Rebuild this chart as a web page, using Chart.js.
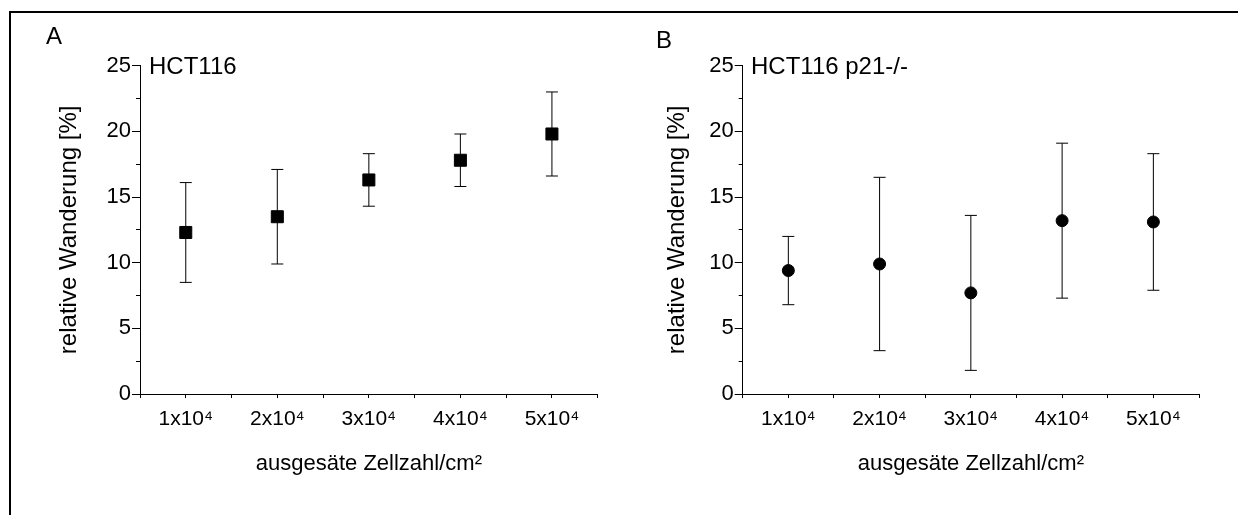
<!DOCTYPE html>
<html>
<head>
<meta charset="utf-8">
<script src="https://cdn.jsdelivr.net/npm/chart.js@4"></script>
<style>
  body { margin: 0; background: #fff; }
  #frame { position: absolute; left: 9px; top: 11px; right: 0; bottom: 0; border-top: 2px solid #000; border-left: 2px solid #000; }
  canvas { position: absolute; top: 0; }
  .lbl { position: absolute; font-family: "Liberation Sans", Arial, sans-serif; font-size: 24px; line-height: 24px; color: #000; white-space: nowrap; }
</style>
</head>
<body>
<div id="frame"></div>
<canvas id="chartA" width="619" height="515" style="left:0"></canvas>
<canvas id="chartB" width="619" height="515" style="left:619px"></canvas>
<div class="lbl" style="left:46px; top:24px">A</div>
<div class="lbl" style="left:656px; top:28px">B</div>
<div class="lbl" style="left:149px; top:54px">HCT116</div>
<div class="lbl" style="left:751px; top:54px">HCT116 p21-/-</div>
<script>
'use strict';

const cellCounts = [1, 2, 3, 4, 5];
const xTickLabels = ['1x10⁴', '2x10⁴', '3x10⁴', '4x10⁴', '5x10⁴'];

const hctMean = [12.3, 13.5, 16.3, 17.8, 19.8];
const hctErr = [3.8, 3.6, 2.0, 2.0, 3.2];

const p21Mean = [9.4, 9.9, 7.7, 13.2, 13.1];
const p21Err = [2.6, 6.6, 5.9, 5.9, 5.2];

const FONT = '"Liberation Sans", Arial, sans-serif';

function buildChart(canvasId, mean, err, pointStyle, radius, yAxisWidth, padRight, yTitlePad) {
    const points = cellCounts.map((x, i) => ({ x: x, y: mean[i] }));
    const caps = [];
    const stems = [];
    cellCounts.forEach((x, i) => {
        caps.push({ x: x, y: mean[i] + err[i] }, { x: x, y: mean[i] - err[i] });
        stems.push({ x: x, y: mean[i] - err[i] }, { x: x, y: mean[i] + err[i] }, { x: x + 0.5, y: null });
    });

    return new Chart(document.getElementById(canvasId), {
        type: 'scatter',
        data: {
            datasets: [
                {
                    data: points,
                    pointStyle: pointStyle,
                    pointRadius: radius,
                    backgroundColor: '#000',
                    borderColor: '#000',
                    borderWidth: 1
                },
                {
                    data: caps,
                    pointStyle: 'line',
                    pointRadius: 6,
                    borderColor: '#000',
                    borderWidth: 1
                },
                {
                    type: 'line',
                    data: stems,
                    showLine: true,
                    spanGaps: false,
                    pointRadius: 0,
                    borderColor: '#000',
                    borderWidth: 1
                }
            ]
        },
        options: {
            responsive: false,
            animation: false,
            layout: { padding: { left: 0, right: padRight, top: 65.7, bottom: 0 } },
            plugins: { legend: { display: false }, tooltip: { enabled: false } },
            scales: {
                x: {
                    type: 'linear',
                    min: 0.5,
                    max: 5.5,
                    ticks: {
                        stepSize: 0.5,
                        autoSkip: false,
                        color: '#000',
                        font: { family: FONT, size: 21 },
                        padding: 9,
                        maxRotation: 0,
                        callback: (v) => Number.isInteger(v) ? xTickLabels[v - 1] : ''
                    },
                    grid: { drawOnChartArea: false, tickLength: 4, tickColor: '#000' },
                    border: { color: '#000', width: 1 },
                    title: {
                        display: true,
                        text: 'ausgesäte Zellzahl/cm²',
                        color: '#000',
                        font: { family: FONT, size: 22 },
                        padding: { top: 0, bottom: 38 }
                    },
                    afterFit: (s) => { s.height = 121; }
                },
                y: {
                    type: 'linear',
                    position: 'left',
                    weight: 1,
                    min: 0,
                    max: 25,
                    ticks: {
                        stepSize: 5,
                        color: '#000',
                        font: { family: FONT, size: 22 },
                        padding: 1
                    },
                    grid: { drawOnChartArea: false, tickLength: 8, tickColor: '#000' },
                    border: { color: '#000', width: 1 },
                    title: {
                        display: true,
                        text: 'relative Wanderung [%]',
                        color: '#000',
                        font: { family: FONT, size: 24 },
                        padding: { top: yTitlePad, bottom: 0 }
                    },
                    afterFit: (s) => { s.width = yAxisWidth; }
                },
                yMinor: {
                    type: 'linear',
                    position: 'left',
                    weight: 0,
                    min: 0,
                    max: 25,
                    ticks: { stepSize: 2.5, display: false },
                    grid: { drawOnChartArea: false, tickLength: 4, tickColor: '#000' },
                    border: { display: false },
                    afterFit: (s) => { s.width = 0; }
                }
            }
        }
    });
}

buildChart('chartA', hctMean, hctErr, 'rect', 8.5, 140, 21.3, 55);
buildChart('chartB', p21Mean, p21Err, 'circle', 6, 123.7, 39, 44);
</script>
</body>
</html>
